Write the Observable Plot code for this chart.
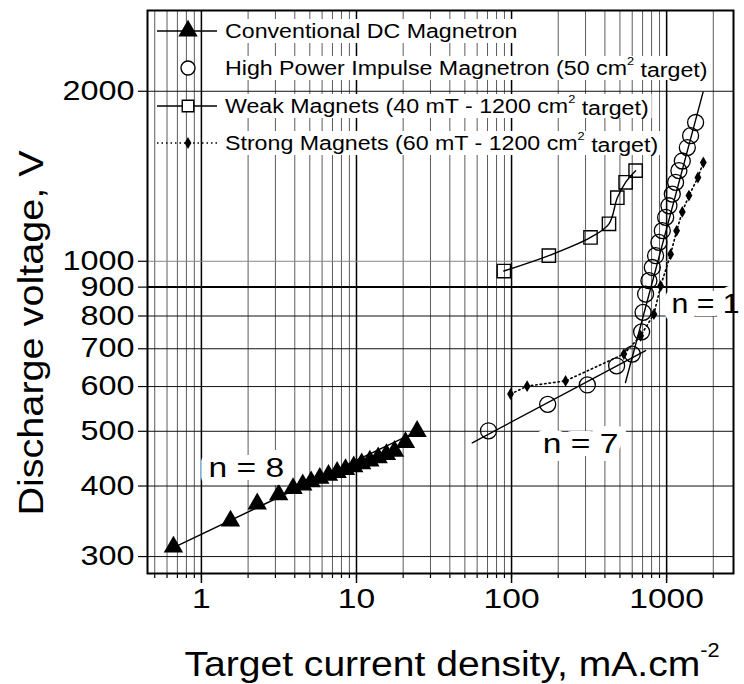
<!DOCTYPE html>
<html>
<head>
<meta charset="utf-8">
<script src="https://cdn.jsdelivr.net/npm/d3@7"></script>
<script src="https://cdn.jsdelivr.net/npm/@observablehq/plot@0.6"></script>
<style>
  html, body { margin: 0; padding: 0; background: #fff; }
  #chart svg { display: block; font-family: "Liberation Sans", Arial, Helvetica, sans-serif; }
</style>
</head>
<body>
<div id="chart"></div>
<script>
// Conventional DC magnetron: current density (mA/cm²) and discharge voltage (V)
const dcCurrent = [0.66, 1.54, 2.29, 3.15, 3.9, 4.5, 5.1, 5.8, 6.6, 7.5, 8.5, 9.6, 10.8, 12.2, 13.8, 15.6, 17.6, 20.7, 24.6];
const dcVoltage = [312, 347, 372, 386, 396, 402, 407, 413, 418, 423, 428, 433, 438, 443, 449, 455, 461, 478, 500];
// Power-law fit through the DC points (n = 8)
const dcFitCurrent = [0.64, 24.6];
const dcFitVoltage = [310, 500];

// High power impulse magnetron, 50 cm² target
const hipCurrent = [71, 171, 308, 476, 601, 690, 705, 732, 769, 809, 849, 892, 938, 986, 1035, 1088, 1143, 1200, 1262, 1360, 1428, 1538];
const hipVoltage = [501, 558, 604, 653, 685, 750, 812, 875, 924, 975, 1023, 1080, 1133, 1196, 1254, 1315, 1380, 1447, 1505, 1590, 1669, 1761];
// Fits to the low-current (n = 7) and high-current (n = 1) regimes
const fitN7Current = [55.8, 732];
const fitN7Voltage = [477, 695];
const fitN1Current = [543, 1720];
const fitN1Voltage = [610, 1995];

// Weak magnets (40 mT), 1200 cm² target
const weakCurrent = [89.2, 174, 323, 425, 481, 544, 631];
const weakVoltage = [961, 1023, 1102, 1165, 1296, 1380, 1447];

// Strong magnets (60 mT), 1200 cm² target
const strongCurrent = [98.5, 126, 223, 530, 680, 828, 915, 1061, 1160, 1262, 1393, 1592, 1725];
const strongVoltage = [582, 601, 614, 685, 738, 806, 904, 1029, 1132, 1223, 1307, 1407, 1496];

// Axis ticks and grid
const xTickValues = [1, 10, 100, 1000];
const xGridValues = [0.5, 0.6, 0.7, 0.8, 0.9, 1, 2, 3, 4, 5, 6, 7, 8, 9, 10, 20, 30, 40, 50, 60, 70, 80, 90, 100,
  200, 300, 400, 500, 600, 700, 800, 900, 1000, 2000];
const yTickValues = [300, 400, 500, 600, 700, 800, 900, 1000, 2000];

// Slope annotations
const slopeLabels = ["n = 8", "n = 7", "n = 1"];
const slopeLabelCurrent = [1.95, 279, 1075];
const slopeLabelVoltage = [430, 475, 841];

// Legend entries (text before the superscript, superscript, text after)
const legendNames = [
  ["Conventional DC Magnetron", null, ""],
  ["High Power Impulse Magnetron (50 cm", "2", " target)"],
  ["Weak Magnets (40 mT - 1200 cm", "2", " target)"],
  ["Strong Magnets (60 mT - 1200 cm", "2", " target)"]
];

const zip = (xs, ys) => xs.map((x, i) => ({x, y: ys[i]}));
const dc = zip(dcCurrent, dcVoltage);
const dcFit = zip(dcFitCurrent, dcFitVoltage);
const hip = zip(hipCurrent, hipVoltage);
const fitN7 = zip(fitN7Current, fitN7Voltage);
const fitN1 = zip(fitN1Current, fitN1Voltage);
const weak = zip(weakCurrent, weakVoltage);
const strong = zip(strongCurrent, strongVoltage);
const slopes = slopeLabels.map((t, i) => ({t, x: slopeLabelCurrent[i], y: slopeLabelVoltage[i]}));

const FONT = "Liberation Sans, Arial, Helvetica, sans-serif";
const halo = {fontSize: 28, fill: "#000", stroke: "#fff", strokeWidth: 16, clip: false};

const chart = Plot.plot({
  width: 744,
  height: 684,
  marginLeft: 147,
  marginRight: 11,
  marginTop: 10,
  marginBottom: 111,
  style: {fontFamily: FONT, background: "#fff", color: "#000"},
  x: {type: "log", domain: [0.449, 2700]},
  y: {type: "log", domain: [280, 2780]},
  marks: [
    // vertical grid at every step of each decade
    Plot.ruleX(xGridValues, {stroke: "#333", strokeOpacity: 0.8, strokeWidth: 1}),
    Plot.ruleX(xTickValues, {stroke: "#000", strokeWidth: 1.5}),
    // horizontal grid at the labelled voltages
    Plot.ruleY(yTickValues.filter(v => v !== 900 && v !== 1000), {stroke: "#111", strokeWidth: 1}),
    Plot.ruleY([1000], {stroke: "#888", strokeWidth: 1}),
    Plot.ruleY([900], {stroke: "#000", strokeWidth: 2}),

    // bottom ticks: minor, then labelled decades
    Plot.axisX(xGridValues, {tickSize: 5, tickFormat: () => "", strokeWidth: 1.2, label: null}),
    Plot.axisX(xTickValues, {tickSize: 10, tickPadding: 5, tickFormat: d => String(d), fontSize: 28, strokeWidth: 1.5, label: null}),
    Plot.axisY(yTickValues, {tickSize: 9, tickPadding: 4, tickFormat: d => String(d), fontSize: 27, strokeWidth: 1.2, label: null}),

    // fitted power laws and connecting curves
    Plot.line(dcFit, {x: "x", y: "y", stroke: "#000", strokeWidth: 1.4}),
    Plot.line(fitN7, {x: "x", y: "y", stroke: "#000", strokeWidth: 1.4}),
    Plot.line(fitN1, {x: "x", y: "y", stroke: "#000", strokeWidth: 1.4}),
    Plot.line(weak, {x: "x", y: "y", stroke: "#000", strokeWidth: 1.4, curve: "catmull-rom"}),
    Plot.line(strong, {x: "x", y: "y", stroke: "#000", strokeWidth: 1.6, strokeDasharray: "1.5,3"}),

    // measured points
    Plot.dot(dc, {x: "x", y: "y", symbol: "triangle", fill: "#000", r: 7.2}),
    Plot.dot(hip, {x: "x", y: "y", symbol: "circle", stroke: "#000", fill: "none", strokeWidth: 1.3, r: 8}),
    Plot.dot(weak, {x: "x", y: "y", symbol: "square", stroke: "#000", fill: "none", strokeWidth: 1.4, r: 7.5}),
    Plot.dot(strong, {x: "x", y: "y", symbol: "diamond", fill: "#000", r: 3.6}),

    // slope annotations on a white backing
    Plot.text(slopes.filter(d => d.t !== "n = 1"), {x: "x", y: "y", text: "t", textAnchor: "middle", ...halo}),
    Plot.text(slopes.filter(d => d.t === "n = 1"), {x: "x", y: "y", text: "t", textAnchor: "start", ...halo}),

    Plot.frame({stroke: "#000", strokeWidth: 2})
  ]
});

document.getElementById("chart").appendChild(chart);
const svg = d3.select(chart);
const NS = "http://www.w3.org/2000/svg";

// Widen a text horizontally about its anchor point
function widen(node, sx) {
  const anchor = getComputedStyle(node).textAnchor;
  const r = node.getBoundingClientRect();
  const sx0 = anchor === "start" ? r.left : anchor === "end" ? r.right : (r.left + r.right) / 2;
  const m = node.parentNode.getScreenCTM().inverse();
  const p = new DOMPoint(sx0, (r.top + r.bottom) / 2).matrixTransform(m);
  const g = document.createElementNS(NS, "g");
  g.setAttribute("transform", `translate(${p.x},0) scale(${sx},1) translate(${-p.x},0)`);
  node.parentNode.insertBefore(g, node);
  g.appendChild(node);
}

// tick labels and slope annotations
svg.selectAll("g[aria-label='x-axis tick label'] text, g[aria-label='y-axis tick label'] text")
  .each(function() { widen(this, 1.2); });
svg.selectAll("g[aria-label='text'] text").each(function() {
  widen(this, this.textContent === "n = 1" ? 1.08 : 1.2);
});

// Legend in the upper-left corner of the frame
const legend = svg.append("g").attr("font-family", FONT).attr("font-size", 20).attr("text-anchor", "start");
const rowY = [31, 68, 106, 143];
const symX = 188, lineX0 = 157, lineX1 = 217, textX = 225;
legendNames.forEach((parts, i) => {
  const y = rowY[i];
  const g = legend.append("g");
  const bg = g.append("rect").attr("fill", "#fff");
  if (i === 0 || i === 2) {
    g.append("line").attr("x1", lineX0).attr("x2", lineX1).attr("y1", y).attr("y2", y)
      .attr("stroke", "#000").attr("stroke-width", 1.6);
  }
  if (i === 3) {
    g.append("line").attr("x1", lineX0).attr("x2", lineX1).attr("y1", y).attr("y2", y)
      .attr("stroke", "#000").attr("stroke-width", 1.6).attr("stroke-dasharray", "1.5,3");
  }
  const sym = [d3.symbolTriangle, d3.symbolCircle, d3.symbolSquare, d3.symbolDiamond][i];
  const size = [Math.PI * 7.2 * 7.2, Math.PI * 7 * 7, Math.PI * 6.5 * 6.5, Math.PI * 3.6 * 3.6][i];
  g.append("path").attr("d", d3.symbol(sym, size)())
    .attr("transform", `translate(${symX},${y})`)
    .attr("fill", i === 0 || i === 3 ? "#000" : "#fff")
    .attr("stroke", i === 0 || i === 3 ? "none" : "#000")
    .attr("stroke-width", 1.4);
  const t = g.append("text")
    .attr("transform", `translate(${textX},${y}) scale(1.16,1)`)
    .attr("dy", "0.36em").attr("fill", "#000");
  t.append("tspan").text(parts[0]);
  if (parts[1]) {
    t.append("tspan").attr("font-size", 11).attr("dy", "-0.95em").text(parts[1]);
    t.append("tspan").attr("dy", "0.62em").text(parts[2]);
  }
  const r = t.node().getBoundingClientRect();
  const s = chart.getBoundingClientRect();
  bg.attr("x", r.left - s.left - 3).attr("y", y - 12).attr("width", r.width + 6).attr("height", 24);
});

// Axis titles
svg.append("text")
  .attr("transform", "translate(43,333) rotate(-90) scale(1.1,1)")
  .attr("text-anchor", "middle")
  .attr("font-family", FONT).attr("font-size", 36).attr("fill", "#000")
  .text("Discharge voltage, V");

const xt = svg.append("text")
  .attr("transform", "translate(452,676) scale(1.085,1)")
  .attr("text-anchor", "middle")
  .attr("font-family", FONT).attr("font-size", 36).attr("fill", "#000");
xt.append("tspan").text("Target current density, mA.cm");
xt.append("tspan").attr("font-size", 20).attr("dy", "-0.95em").text("-2");
</script>
</body>
</html>
